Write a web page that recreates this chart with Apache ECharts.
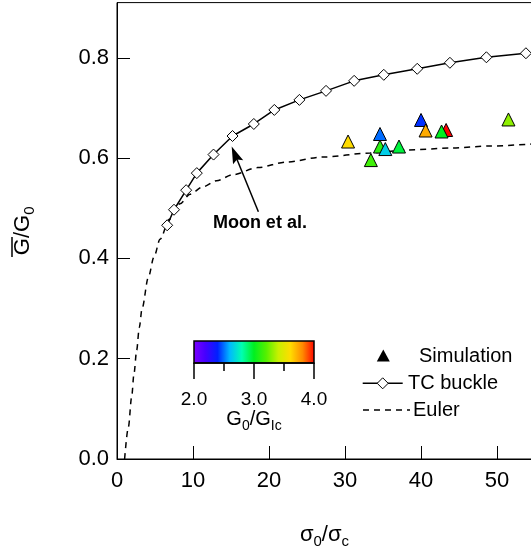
<!DOCTYPE html>
<html><head><meta charset="utf-8">
<script src="https://cdn.jsdelivr.net/npm/echarts@6/dist/echarts.min.js"></script>
<style>html,body{margin:0;padding:0;background:#fff}#c{width:531px;height:552px}</style>
</head><body><div id="c"></div>
<script>
// TC buckle (Moon et al.) curve
var tcX = [6.6, 7.5, 9.1, 10.5, 12.7, 15.2, 18.0, 20.7, 24.0, 27.5, 31.2, 35.1, 39.5, 43.8, 48.6, 53.8];
var tcY = [0.466, 0.497, 0.536, 0.570, 0.607, 0.644, 0.668, 0.696, 0.716, 0.734, 0.754, 0.766, 0.778, 0.790, 0.801, 0.809];
// Euler curve
var eulerX = [1.0, 1.5, 1.93, 2.24, 2.59, 2.93, 3.3, 4.12, 4.87, 5.66, 6.9, 8.29, 9.6, 11.36, 13.1, 15.3, 18.5, 22.3, 27, 33.3, 38.1, 44, 49, 54.6];
var eulerY = [0, 0.064, 0.124, 0.171, 0.217, 0.262, 0.300, 0.362, 0.403, 0.438, 0.478, 0.509, 0.528, 0.543, 0.555, 0.567, 0.581, 0.592, 0.602, 0.610, 0.616, 0.620, 0.624, 0.628];
// Simulation points
var simX = [30.4, 34.6, 34.6, 35.3, 37.1, 33.4, 40.0, 40.6, 43.3, 42.7, 51.5];
var simY = [0.633, 0.648, 0.623, 0.618, 0.623, 0.596, 0.676, 0.655, 0.656, 0.653, 0.677];
var simG = [3.6, 2.5, 3.1, 2.66, 2.96, 3.15, 2.42, 3.72, 4.0, 3.0, 3.3];
// colour table
var rainbow = ['#7f00ff', '#4500ff', '#0020ff', '#00b8ff', '#00ffb0', '#00f020', '#55f000', '#c8f000', '#ffdc00', '#ff8a00', '#ff0000'];
var cbarTicks = [2, 3, 4];

var FONT = 'Liberation Sans, Arial, sans-serif';
var chart = echarts.init(document.getElementById('c'), null, {renderer: 'canvas'});

function zip(a, b, c) { return a.map(function (v, i) { return c ? [v, b[i], c[i]] : [v, b[i]]; }); }
var stops = rainbow.map(function (c, i) { return {offset: i / (rainbow.length - 1), color: c}; });

var richMain = {
  g: {fontSize: 22, fontFamily: FONT, color: '#000', lineHeight: 28, verticalAlign: 'middle'},
  s: {fontSize: 15, fontFamily: FONT, color: '#000', lineHeight: 15, verticalAlign: 'bottom'}
};
var richCb = {
  g: {fontSize: 20, fontFamily: FONT, color: '#000', lineHeight: 26, verticalAlign: 'middle'},
  s: {fontSize: 14, fontFamily: FONT, color: '#000', lineHeight: 14, verticalAlign: 'bottom'}
};

var option = {
  backgroundColor: '#fff',
  animation: false,
  grid: [
    {left: 117, top: 2.6, width: 415, height: 456.4, show: true, borderColor: '#000', borderWidth: 1,
     backgroundColor: 'transparent', outerBoundsMode: 'none', containLabel: false},
    {left: 194, top: 341, width: 120, height: 22, show: true, borderColor: '#000', borderWidth: 1.5,
     backgroundColor: new echarts.graphic.LinearGradient(0, 0, 1, 0, stops), outerBoundsMode: 'none', containLabel: false}
  ],
  xAxis: [
    {gridIndex: 0, type: 'value', min: 0, max: 54.6, interval: 10,
     axisLine: {lineStyle: {color: '#000', width: 1}},
     axisTick: {inside: true, length: 13, lineStyle: {color: '#000', width: 1}},
     axisLabel: {fontSize: 22, fontFamily: FONT, color: '#000', margin: 11, showMaxLabel: false,
       formatter: function (v) { return v % 10 === 0 ? String(v) : ''; }},
     splitLine: {show: false},
     name: '{g|σ}{s|0}{g|/σ}{s|c}', nameLocation: 'middle', nameGap: 62,
     nameTextStyle: {rich: richMain}},
    {gridIndex: 1, type: 'value', min: 2, max: 4, interval: 1,
     axisLine: {lineStyle: {color: '#000', width: 1.5}},
     axisTick: {inside: false, length: 16, lineStyle: {color: '#000', width: 1.5}},
     minorTick: {show: true, splitNumber: 2, length: 8, lineStyle: {color: '#000', width: 1.5}},
     axisLabel: {fontSize: 19, fontFamily: FONT, color: '#000', margin: 27,
       formatter: function (v) { return v.toFixed(1); }},
     splitLine: {show: false},
     name: '{g|G}{s|0}{g|/G}{s|Ic}', nameLocation: 'middle', nameGap: 42,
     nameTextStyle: {rich: richCb}}
  ],
  yAxis: [
    {gridIndex: 0, type: 'value', min: 0, max: 0.91, interval: 0.2,
     axisLine: {lineStyle: {color: '#000', width: 1}},
     axisTick: {inside: true, length: 13, lineStyle: {color: '#000', width: 1}},
     axisLabel: {fontSize: 22, fontFamily: FONT, color: '#000', margin: 8, showMaxLabel: false,
       formatter: function (v) { return v.toFixed(1); }},
     splitLine: {show: false},
     name: '{g|G/G}{s|0}', nameLocation: 'middle', nameGap: 80, nameRotate: 90,
     nameTextStyle: {rich: richMain}},
    {gridIndex: 1, type: 'value', min: 0, max: 1, show: false}
  ],
  visualMap: {type: 'continuous', show: false, seriesIndex: 2, dimension: 2, min: 2, max: 4,
    inRange: {color: rainbow}},
  series: [
    {name: 'Euler', type: 'line', xAxisIndex: 0, yAxisIndex: 0, data: zip(eulerX, eulerY),
     symbol: 'none', smooth: 0.3, smoothMonotone: 'x',
     lineStyle: {color: '#000', width: 1.5, type: [6, 5]}, z: 2},
    {name: 'TC buckle', type: 'line', xAxisIndex: 0, yAxisIndex: 0, data: zip(tcX, tcY),
     symbol: 'diamond', symbolSize: 11, showAllSymbol: true,
     itemStyle: {color: '#fff', borderColor: '#000', borderWidth: 1},
     lineStyle: {color: '#000', width: 1.5}, z: 3},
    {name: 'Simulation', type: 'scatter', xAxisIndex: 0, yAxisIndex: 0, data: zip(simX, simY, simG),
     symbol: 'triangle', symbolSize: 13,
     itemStyle: {borderColor: '#000', borderWidth: 1, opacity: 1}, z: 4}
  ]
};
chart.setOption(option);

// annotation & legend
var tip = chart.convertToPixel({gridIndex: 0}, [15.09, 0.623]);
var tail = chart.convertToPixel({gridIndex: 0}, [18.6, 0.493]);
var txt = chart.convertToPixel({gridIndex: 0}, [18.8, 0.470]);
var dx = tip[0] - tail[0], dy = tip[1] - tail[1], L = Math.sqrt(dx * dx + dy * dy);
var ux = dx / L, uy = dy / L, hl = 17, hw = 5.5;
var bx = tip[0] - ux * hl, by = tip[1] - uy * hl;
var head = [[tip[0], tip[1]], [bx - uy * hw, by + ux * hw], [bx + ux * 3, by + uy * 3], [bx + uy * hw, by - ux * hw]];

chart.setOption({graphic: [
  {type: 'line', shape: {x1: tail[0], y1: tail[1], x2: bx + ux * 4, y2: by + uy * 4}, style: {stroke: '#000', lineWidth: 1.5}, z: 10},
  {type: 'polygon', shape: {points: head}, style: {fill: '#000'}, z: 10},
  {type: 'text', x: txt[0], y: txt[1], style: {text: 'Moon et al.', font: 'bold 18px ' + FONT, fill: '#000', align: 'center', verticalAlign: 'middle'}, z: 10},
  // overline on G
  {type: 'line', shape: {x1: 12, y1: 237, x2: 12, y2: 257}, style: {stroke: '#000', lineWidth: 1.5}, z: 10},
  // legend
  {type: 'polygon', shape: {points: [[376.8, 361.5], [389.8, 361.5], [383.3, 349.5]]}, style: {fill: '#000'}, z: 10},
  {type: 'text', x: 419, y: 356.7, style: {text: 'Simulation', font: '20px ' + FONT, fill: '#000', verticalAlign: 'middle'}, z: 10},
  {type: 'line', shape: {x1: 362.7, y1: 383.3, x2: 402.7, y2: 383.3}, style: {stroke: '#000', lineWidth: 1.5}, z: 10},
  {type: 'polygon', shape: {points: [[382.7, 377.8], [388.2, 383.3], [382.7, 388.8], [377.2, 383.3]]}, style: {fill: '#fff', stroke: '#000', lineWidth: 1}, z: 11},
  {type: 'text', x: 408, y: 383.3, style: {text: 'TC buckle', font: '20px ' + FONT, fill: '#000', verticalAlign: 'middle'}, z: 10},
  {type: 'line', shape: {x1: 363, y1: 410, x2: 410, y2: 410}, style: {stroke: '#000', lineWidth: 1.5, lineDash: [6, 5]}, z: 10},
  {type: 'text', x: 413, y: 410, style: {text: 'Euler', font: '20px ' + FONT, fill: '#000', verticalAlign: 'middle'}, z: 10}
]});
</script></body></html>
